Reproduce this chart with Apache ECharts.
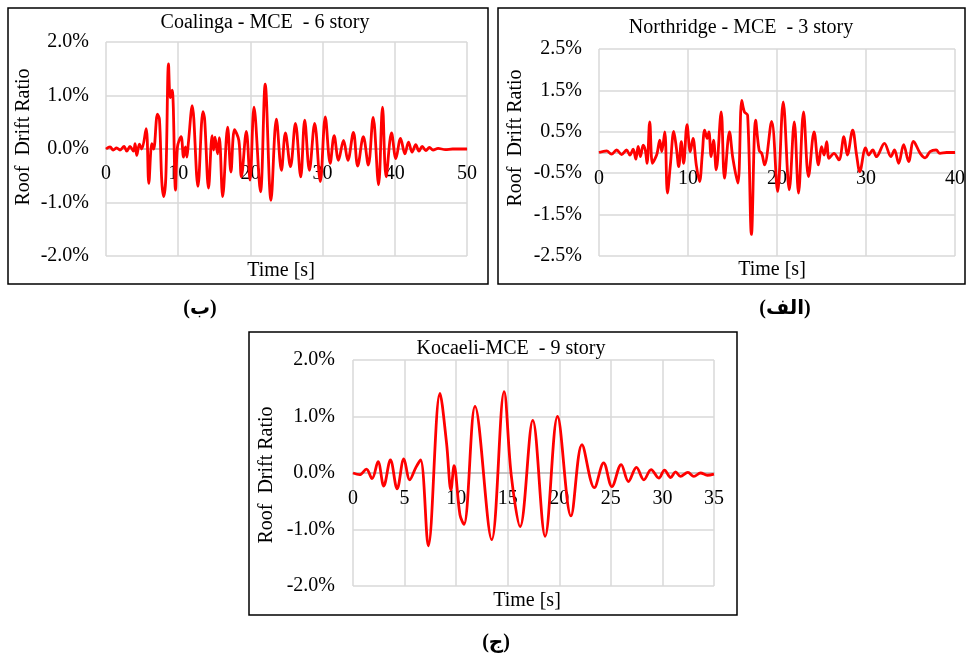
<!DOCTYPE html>
<html>
<head>
<meta charset="utf-8">
<script src="https://cdn.jsdelivr.net/npm/echarts@6.0.0/dist/echarts.min.js"></script>
<style>
  html, body { margin: 0; padding: 0; background: #fff; }
  #chart { width: 968px; height: 661px; }
</style>
</head>
<body>
<div id="chart"></div>
<script>
// Coalinga - MCE - 6 story  (time in s, roof drift in %)
var coalingaT = [0, 0.56, 1.0, 1.48, 1.94, 2.5, 2.87, 3.33, 3.8, 4.03,
  4.26, 4.63, 4.95, 5.56, 5.93, 6.35, 6.6, 7.13, 7.4, 7.73,
  8.0, 8.29, 8.66, 8.9, 9.17, 9.63, 9.9, 10.4, 10.74, 11.0,
  11.2, 11.4, 11.94, 12.73, 13.43, 13.66, 14.2, 14.7, 14.9, 15.1,
  15.46, 15.7, 16.16, 16.85, 17.3, 17.8, 18.4, 18.75, 19.44, 19.95,
  20.5, 21.4, 22.05, 22.85, 23.6, 24.3, 24.85, 25.55, 26.24, 26.97,
  27.52, 28.17, 28.9, 29.68, 30.37, 31.05, 31.6, 32.2, 32.9, 33.5,
  34.27, 34.86, 35.64, 36.33, 37.0, 37.75, 38.3, 38.8, 39.55, 40.15,
  40.8, 41.4, 41.9, 42.4, 42.9, 43.35, 43.8, 44.3, 44.8, 45.3,
  46, 47, 48, 50];
var coalingaV = [0, 0.04, -0.02, 0.02, -0.02, 0.05, -0.04, 0.05, -0.04, 0.1,
  -0.12, 0.09, 0.0, 0.38, -0.64, 0.1, 0.0, 0.65, 0.56, -0.61,
  -0.89, -0.52, 1.59, 0.96, 1.1, -0.77, 0.04, 0.23, -0.15, 0.04,
  -0.15, 0.1, 0.81, -0.70, 0.70, 0.56, -0.73, 0.25, -0.02, 0.22,
  -0.09, 0.21, -0.89, 0.41, -0.43, 0.36, 0.16, -0.52, 0.33, -0.58,
  0.78, -0.8, 1.21, -0.96, 0.56, -0.4, 0.3, -0.33, 0.48, -0.52,
  0.54, -0.4, 0.48, -0.61, 0.6, -0.27, 0.25, -0.21, 0.16, -0.21,
  0.31, -0.32, 0.23, -0.3, 0.59, -0.67, 0.78, -0.52, 0.3, -0.18,
  0.2, -0.09, 0.13, -0.06, 0.08, -0.04, 0.05, -0.03, 0.03, -0.02,
  0.01, -0.01, 0, 0];

// Northridge - MCE - 3 story
var northT = [0, 0.86, 1.4, 1.98, 2.54, 3.1, 3.47, 3.84, 4.14, 4.4,
  4.66, 4.96, 5.2, 5.4, 5.7, 6.0, 6.3, 6.53, 6.83, 7.05,
  7.39, 7.69, 8.02, 8.4, 8.7, 8.96, 9.25, 9.51, 9.89, 10.26,
  10.56, 10.93, 11.3, 11.6, 11.87, 12.16, 12.35, 12.6, 12.87, 13.17,
  13.73, 14.1, 14.66, 15.04, 15.6, 16.04, 16.34, 16.7, 17.13, 17.6,
  18.0, 18.3, 18.6, 19.4, 20.07, 20.7, 21.38, 21.94, 22.42, 22.98,
  23.54, 24.17, 24.66, 25.0, 25.29, 25.59, 25.85, 26.4, 26.96, 27.52,
  27.9, 28.5, 28.94, 29.3, 29.95, 30.3, 30.76, 31.17, 32.07, 32.8,
  33.2, 33.67, 34.23, 34.79, 35.34, 36.09, 36.65, 37.2, 37.88, 38.3,
  39.07, 40];
var northV = [0, 0.04, -0.04, 0.06, -0.05, 0.06, -0.06, 0.08, -0.16, 0.15,
  -0.1, 0.18, 0.06, -0.26, 0.74, -0.26, -0.15, -0.02, 0.3, 0.02,
  0.5, -0.98, -0.3, 0.51, 0.1, -0.34, 0.26, -0.26, 0.67, 0.02,
  0.34, -0.3, -0.7, -0.06, 0.54, 0.34, 0.5, -0.1, 0.3, -0.42,
  0.98, -0.62, 0.5, -0.14, -0.74, 1.26, 0.98, 0.9, -1.98, 0.78,
  0.05, -0.03, -0.3, 0.75, -0.94, 1.22, -0.9, 0.74, -0.98, 0.98,
  -0.58, 0.5, -0.3, 0.14, -0.06, 0.26, -0.14, -0.02, -0.18, 0.38,
  -0.06, 0.54, -0.06, -0.46, 0.11, -0.06, 0.06, -0.1, 0.22, -0.1,
  0.06, -0.26, 0.19, -0.22, 0.27, -0.02, -0.13, 0.02, 0.06, -0.02,
  0, 0];

// Kocaeli-MCE - 9 story
var kocaeliT = [0, 0.65, 1.3, 1.85, 2.43, 2.98, 3.63, 4.28, 4.93, 5.5,
  6.1, 6.55, 7.3, 8.43, 9.07, 9.5, 9.8, 10.37, 10.76, 11.83,
  13.45, 14.65, 15.35, 16.2, 17.43, 18.63, 19.83, 21.13, 22.2, 23.4,
  24.3, 25.1, 26.0, 26.7, 27.48, 28.2, 28.9, 29.65, 30.2, 30.8,
  31.27, 31.75, 32.47, 33.05, 33.7, 34.35, 35];
var kocaeliV = [0, -0.03, 0.07, -0.1, 0.2, -0.23, 0.23, -0.28, 0.25, -0.12,
  0.1, 0.23, -1.29, 1.41, 0.53, -0.3, 0.13, -0.74, -0.91, 1.18,
  -1.18, 1.44, -0.05, -0.95, 0.93, -1.12, 1.0, -0.76, 0.5, -0.26,
  0.18, -0.24, 0.15, -0.15, 0.1, -0.12, 0.06, -0.09, 0.05, -0.08,
  0.02, -0.06, 0.01, -0.06, 0.0, -0.04, -0.02];

var panelTitles = ['Coalinga - MCE  - 6 story', 'Northridge - MCE  - 3 story', 'Kocaeli-MCE  - 9 story'];
var panelTags = ['(ب)', '(الف)', '(ج)'];

var serif = '"Liberation Serif", "Times New Roman", serif';
var gridColor = '#d9d9d9';

function zip(t, v) {
  return t.map(function (x, i) { return [x, v[i]]; });
}

function pct(v) { return v.toFixed(1) + '%'; }

// x axis drawn through y = 0 (middle of each grid), labels just under it
function xAx(idx, max, step, offset, margin) {
  return {
    type: 'value', gridIndex: idx, min: 0, max: max, interval: step,
    position: 'bottom', offset: offset,
    axisLine: { onZero: false, lineStyle: { color: '#bdbdbd', width: 1.5 } },
    axisTick: { show: false },
    axisLabel: { color: '#000', fontFamily: serif, fontSize: 20, margin: margin, showMaxLabel: true, showMinLabel: true },
    splitLine: { show: true, lineStyle: { color: gridColor, width: 1.5 } }
  };
}

var chart = echarts.init(document.getElementById('chart'));

var option = {
  animation: false,
  backgroundColor: '#fff',
  grid: [
    { left: 106, top: 42, width: 361, height: 214 },
    { left: 599, top: 49, width: 358, height: 207 },
    { left: 353, top: 360, width: 361, height: 226 }
  ],
  xAxis: [xAx(0, 50, 10, -107, 15), xAx(1, 40, 10, -103.5, 16), xAx(2, 35, 5, -113, 16)],
  yAxis: [
    {
      type: 'value', gridIndex: 0, min: -2, max: 2, interval: 1,
      axisLine: { show: false }, axisTick: { show: false },
      axisLabel: { color: '#000', fontFamily: serif, fontSize: 20, margin: 17, formatter: pct },
      splitLine: { lineStyle: { color: gridColor, width: 1.5 } }
    },
    {
      // labels every 1% starting at -2.5%: half-step ticks, every other one hidden
      type: 'value', gridIndex: 1, min: -2.5, max: 2.5, interval: 0.5,
      axisLine: { show: false }, axisTick: { show: false },
      axisLabel: {
        color: '#000', fontFamily: serif, fontSize: 20, margin: 17,
        formatter: function (v) {
          return Math.abs(Math.round(v * 2)) % 2 === 1 ? pct(v) : '';
        }
      },
      splitLine: { lineStyle: { color: [gridColor, 'rgba(0,0,0,0)'], width: 1.5 } }
    },
    {
      type: 'value', gridIndex: 2, min: -2, max: 2, interval: 1,
      axisLine: { show: false }, axisTick: { show: false },
      axisLabel: { color: '#000', fontFamily: serif, fontSize: 20, margin: 18, formatter: pct },
      splitLine: { lineStyle: { color: gridColor, width: 1.5 } }
    }
  ],
  series: [
    { type: 'line', xAxisIndex: 0, yAxisIndex: 0, data: zip(coalingaT, coalingaV) },
    { type: 'line', xAxisIndex: 1, yAxisIndex: 1, data: zip(northT, northV) },
    { type: 'line', xAxisIndex: 2, yAxisIndex: 2, data: zip(kocaeliT, kocaeliV) }
  ].map(function (s) {
    s.showSymbol = false;
    s.smooth = 0.35;
    s.lineStyle = { color: '#ff0000', width: 2.8 };
    s.z = 5;
    return s;
  }),
  graphic: []
};

// panel frames, titles and axis captions
var frames = [
  { x: 8, y: 8, w: 480, h: 276, title: [265, 23], ytitle: [24, 137], xtitle: [281, 271], tag: [200, 309] },
  { x: 498, y: 8, w: 467, h: 276, title: [741, 28], ytitle: [516, 138], xtitle: [772, 270], tag: [785, 309] },
  { x: 249, y: 332, w: 488, h: 283, title: [511, 349], ytitle: [267, 475], xtitle: [527, 601], tag: [496, 643] }
];

frames.forEach(function (f, i) {
  option.graphic.push({
    type: 'rect', shape: { x: f.x, y: f.y, width: f.w, height: f.h },
    style: { fill: 'none', stroke: '#000', lineWidth: 1.5 }, z: 10
  });
  option.graphic.push({
    type: 'text', x: f.title[0], y: f.title[1], z: 10,
    style: { text: panelTitles[i], font: '20px ' + serif, fill: '#000', align: 'center', verticalAlign: 'middle' }
  });
  option.graphic.push({
    type: 'text', x: f.ytitle[0], y: f.ytitle[1], rotation: Math.PI / 2, z: 10,
    style: { text: 'Roof  Drift Ratio', font: '20px ' + serif, fill: '#000', align: 'center', verticalAlign: 'middle' }
  });
  option.graphic.push({
    type: 'text', x: f.xtitle[0], y: f.xtitle[1], z: 10,
    style: { text: 'Time [s]', font: '20px ' + serif, fill: '#000', align: 'center', verticalAlign: 'middle' }
  });
  option.graphic.push({
    type: 'text', x: f.tag[0], y: f.tag[1], z: 10,
    style: { text: panelTags[i], font: 'bold 20px "Liberation Serif", "DejaVu Sans", serif', fill: '#000', align: 'center', verticalAlign: 'middle' }
  });
});

chart.setOption(option);
</script>
</body>
</html>
